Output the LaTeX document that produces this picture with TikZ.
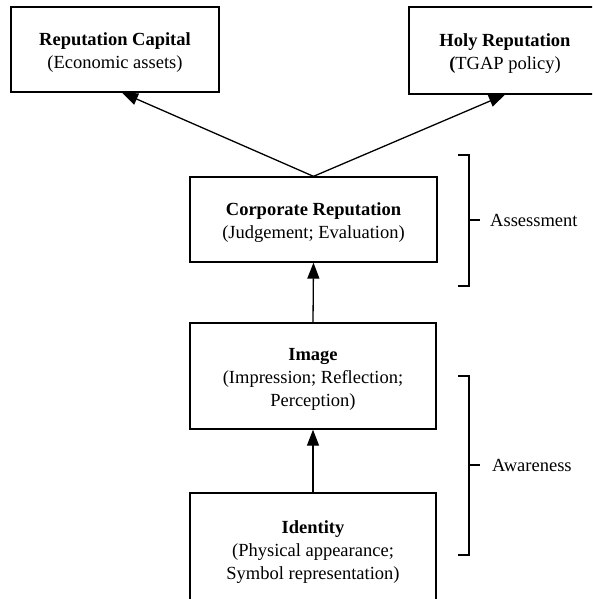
\documentclass[tikz,border=0pt]{standalone}
\usepackage{fontspec}
\setmainfont{Liberation Serif}
\usetikzlibrary{arrows.meta}
\newcommand{\topstrut}{\rule{0pt}{19pt}}
\begin{document}
\begin{tikzpicture}[x=1pt,y=-1pt,
  box/.style={draw,line width=1.3pt,rectangle,inner sep=0pt,align=center,
    font=\fontsize{18.5}{23}\selectfont},
  lbl/.style={anchor=west,inner sep=0pt,font=\fontsize{18.5}{23}\selectfont},
  arr/.style={line width=1.3pt,-{Triangle[length=16pt,width=12pt]}},
  brk/.style={line width=1.3pt}]
\useasboundingbox (0,0) rectangle (592,599);
\clip (0,0) rectangle (592,599);
\node[box,minimum width=208pt,minimum height=85pt] (rc) at (115,49.5)
  {\topstrut\textbf{Reputation Capital}\\(Economic assets)};
\node[box,minimum width=192pt,minimum height=87pt] (hr) at (505,50.5)
  {\topstrut\textbf{Holy Reputation}\\\textbf{(}TGAP policy)};
\node[box,minimum width=247pt,minimum height=85pt] (cr) at (313.5,219.5)
  {\topstrut\textbf{Corporate Reputation}\\(Judgement; Evaluation)};
\node[box,minimum width=246pt,minimum height=106pt] (img) at (313,376)
  {\topstrut\textbf{Image}\\(Impression; Reflection;\\Perception)};
\node[box,minimum width=246pt,minimum height=112pt] (id) at (313,549)
  {\topstrut\textbf{Identity}\\(Physical appearance;\\Symbol representation)};
\draw[arr] (cr.north) -- ([xshift=7pt]rc.south);
\draw[arr] (cr.north) -- (hr.south);
\draw[arr] (img.north) -- (cr.south);
\draw[arr] (id.north) -- (img.south);
% Assessment bracket
\coordinate (a1) at (458,155);
\coordinate (a2) at (458,286);
\draw[brk] (a1) -- (469,155) -- (469,286) -- (a2);
\coordinate (am) at (469,220);
\draw[brk] (am) -- ++(11,0) coordinate (amt);
\node[lbl] (asl) at (490,220) {Assessment};
% Awareness bracket
\coordinate (w1) at (458,376);
\coordinate (w2) at (458,555);
\draw[brk] (w1) -- (469,376) -- (469,555) -- (w2);
\coordinate (wm) at (469,465);
\draw[brk] (wm) -- ++(11,0) coordinate (wmt);
\node[lbl] (awl) at (492,465) {Awareness};
\end{tikzpicture}
\end{document}
